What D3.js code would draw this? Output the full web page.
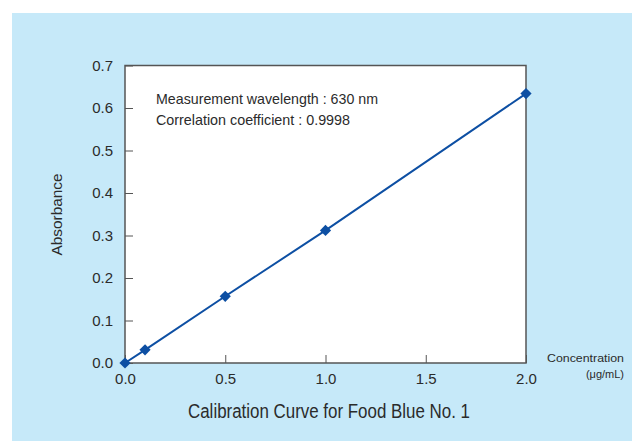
<!DOCTYPE html>
<html>
<head>
<meta charset="utf-8">
<script src="https://cdn.jsdelivr.net/npm/d3@7"></script>
<style>
  body { margin: 0; background: #fff; }
  text { font-family: "Liberation Sans", Arial, sans-serif; fill: #2b2b2b; }
  .narrow { font-family: "Liberation Sans Narrow", "Liberation Sans", Arial, sans-serif; }
</style>
</head>
<body>
<svg id="chart" width="632" height="441"></svg>
<script>
// calibration data
var concentration = [0.0, 0.1, 0.5, 1.0, 2.0]
var absorbance = [0.0, 0.031, 0.157, 0.312, 0.634]
var xTicks = [0.0, 0.5, 1.0, 1.5, 2.0]
var yTicks = [0.0, 0.1, 0.2, 0.3, 0.4, 0.5, 0.6, 0.7]
var notes = ["Measurement wavelength : 630 nm", "Correlation coefficient : 0.9998"]
var title = "Calibration Curve for Food Blue No. 1"

var svg = d3.select("#chart")
var margin = {top: 65.5, left: 125, right: 106, bottom: 78}
var w = 632 - margin.left - margin.right
var h = 441 - margin.top - margin.bottom
var blue = "#0d4fa3"

svg.append("rect").attr("x", 12).attr("y", 13).attr("width", 620).attr("height", 428)
	.attr("fill", "#c6e9f9")

var x = d3.scaleLinear().domain([0, 2]).range([0, w])
var y = d3.scaleLinear().domain([0, 0.7]).range([h, 0])

var g = svg.append("g").attr("transform", "translate(" + margin.left + "," + margin.top + ")")

g.append("rect").attr("width", w).attr("height", h).attr("fill", "#fff")

// ticks point inward
var xAxis = g.append("g").attr("transform", "translate(0," + h + ")")
	.call(d3.axisBottom(x).tickValues(xTicks).tickFormat(d3.format(".1f")).tickSizeInner(-8).tickSizeOuter(0).tickPadding(12))
var yAxis = g.append("g")
	.call(d3.axisLeft(y).tickValues(yTicks).tickFormat(d3.format(".1f")).tickSizeInner(-8).tickSizeOuter(0).tickPadding(12))

;[xAxis, yAxis].forEach(function(a) {
	a.select(".domain").remove()
	a.selectAll(".tick line").attr("stroke", "#555").attr("stroke-width", 1)
	a.selectAll(".tick text").style("font-size", "15px").attr("fill", "#2b2b2b")
})
xAxis.selectAll(".tick text").attr("dy", "0.6em")

g.append("rect").attr("width", w).attr("height", h).attr("fill", "none")
	.attr("stroke", "#555").attr("stroke-width", 1.5)

var line = d3.line().x(function(d, i) { return x(concentration[i]) }).y(function(d) { return y(d) })
g.append("path").datum(absorbance).attr("d", line).attr("fill", "none")
	.attr("stroke", blue).attr("stroke-width", 2)

g.selectAll(".pt").data(absorbance).enter().append("path").attr("class", "pt")
	.attr("transform", function(d, i) { return "translate(" + x(concentration[i]) + "," + y(d) + ")" })
	.attr("d", d3.symbol().type(d3.symbolDiamond2).size(80))
	.attr("fill", blue)

var noteW = [222, 194]
notes.forEach(function(t, i) {
	svg.append("text").attr("class", "narrow").attr("x", 156).attr("y", 104 + i * 21).text(t)
		.style("font-size", "15px").attr("textLength", noteW[i]).attr("lengthAdjust", "spacingAndGlyphs")
})

svg.append("text").attr("class", "narrow").attr("x", 188).attr("y", 418).text(title)
	.style("font-size", "20px").attr("textLength", 282).attr("lengthAdjust", "spacingAndGlyphs")

svg.append("text").attr("transform", "translate(62,214.5) rotate(-90)").attr("text-anchor", "middle")
	.text("Absorbance").style("font-size", "14px")
	.attr("textLength", 82).attr("lengthAdjust", "spacingAndGlyphs")

svg.append("text").attr("x", 624).attr("y", 362).attr("text-anchor", "end")
	.text("Concentration").style("font-size", "11px")
	.attr("textLength", 77).attr("lengthAdjust", "spacingAndGlyphs")
svg.append("text").attr("x", 624).attr("y", 378).attr("text-anchor", "end")
	.text("(μg/mL)").style("font-size", "11px")
</script>
</body>
</html>
